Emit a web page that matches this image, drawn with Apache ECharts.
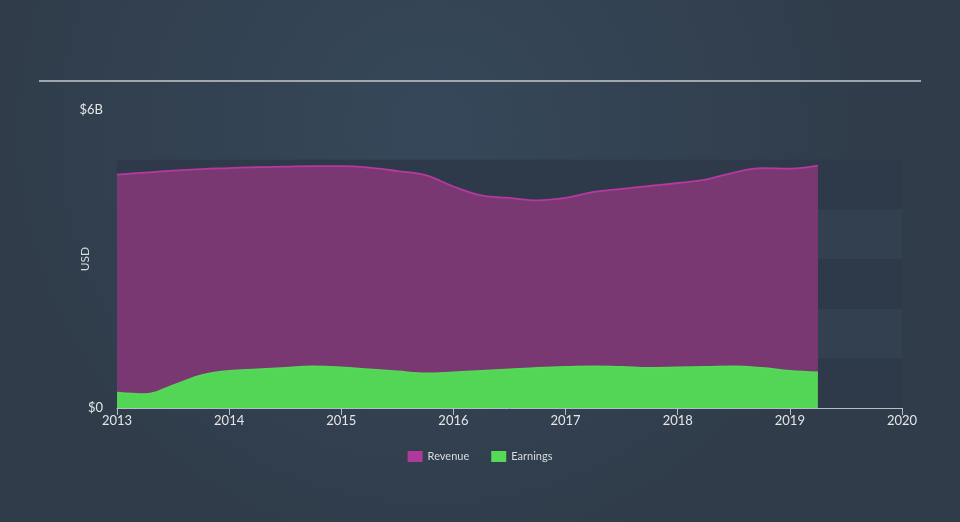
<!DOCTYPE html>
<html>
<head>
<meta charset="utf-8">
<script src="https://cdn.jsdelivr.net/npm/echarts@6/dist/echarts.min.js"></script>
<style>
html,body{margin:0;padding:0;}
#c{width:960px;height:522px;}
</style>
</head>
<body>
<div id="c"></div>
<script>
// Time points (fractional years, quarterly)
const periods = [2013.0, 2013.25, 2013.5, 2013.75, 2014.0, 2014.25, 2014.5, 2014.75,
  2015.0, 2015.25, 2015.5, 2015.75, 2016.0, 2016.25, 2016.5, 2016.75,
  2017.0, 2017.25, 2017.5, 2017.75, 2018.0, 2018.25, 2018.5, 2018.75,
  2019.0, 2019.25];
// Values in billions USD
const revenue = [4.70, 4.74, 4.78, 4.81, 4.83, 4.85, 4.86, 4.87,
  4.87, 4.84, 4.77, 4.69, 4.46, 4.28, 4.23, 4.18,
  4.23, 4.35, 4.41, 4.47, 4.53, 4.60, 4.74, 4.83,
  4.82, 4.88];
const earnings = [0.31, 0.28, 0.46, 0.66, 0.75, 0.78, 0.81, 0.84,
  0.82, 0.78, 0.74, 0.70, 0.72, 0.75, 0.78, 0.81,
  0.83, 0.84, 0.83, 0.81, 0.82, 0.83, 0.84, 0.81,
  0.75, 0.72];
const yearTicks = [2013, 2014, 2015, 2016, 2017, 2018, 2019, 2020];
const yLabels = {0: '$0', 6: '$6B'};

const chart = echarts.init(document.getElementById('c'));
const font = 'Lato, "Open Sans", sans-serif';
chart.setOption({
  animation: false,
  backgroundColor: {
    type: 'radial', x: 0.45, y: 0.25, r: 0.85,
    colorStops: [{offset: 0, color: '#36485a'}, {offset: 1, color: '#303c4a'}]
  },
  textStyle: {fontFamily: font},
  graphic: [{
    type: 'line', shape: {x1: 39, y1: 81, x2: 921, y2: 81},
    style: {stroke: '#c5c9ce', lineWidth: 1.5}
  }],
  grid: {left: 117, right: 58, top: 110, bottom: 114},
  legend: {
    bottom: 55, left: 'center', itemWidth: 15, itemHeight: 11, itemGap: 22,
    icon: 'rect',
    textStyle: {color: '#d8dce0', fontSize: 11, fontFamily: font},
    data: ['Revenue', 'Earnings']
  },
  xAxis: {
    type: 'value', min: 2013, max: 2020, interval: 1,
    axisLine: {show: true, lineStyle: {color: '#b8bec6', width: 1}},
    axisTick: {show: true, length: 7, lineStyle: {color: '#b8bec6'}},
    axisLabel: {color: '#e4e6ea', fontSize: 13, margin: 6,
      formatter: v => yearTicks.includes(v) ? String(v) : ''},
    splitLine: {show: false}
  },
  yAxis: {
    type: 'value', min: 0, max: 6, interval: 1,
    name: 'USD', nameLocation: 'middle', nameGap: 26, nameRotate: 90,
    nameMoveOverlap: false,
    nameTextStyle: {color: '#d8dce0', fontSize: 12},
    axisLine: {show: false}, axisTick: {show: false},
    axisLabel: {color: '#e4e6ea', fontSize: 13, margin: 14,
      formatter: v => yLabels[v] !== undefined ? yLabels[v] : ''},
    splitLine: {show: false},
    splitArea: {show: true, areaStyle: {color: ['#2e3a4a', '#324050', '#2e3a4a', '#324050', '#2e3a4a', 'rgba(0,0,0,0)']}}
  },
  series: [{
    name: 'Revenue', type: 'line', smooth: 0.4, symbol: 'none',
    data: periods.map((p, i) => [p, revenue[i]]),
    lineStyle: {color: '#b5399f', width: 1.8},
    itemStyle: {color: '#b03a9c'},
    areaStyle: {color: '#7a3873', opacity: 1}
  }, {
    name: 'Earnings', type: 'line', smooth: 0.4, symbol: 'none',
    data: periods.map((p, i) => [p, earnings[i]]),
    lineStyle: {color: '#55d957', width: 1.5},
    itemStyle: {color: '#55d957'},
    areaStyle: {color: '#53d655', opacity: 1}
  }]
});
</script>
</body>
</html>
